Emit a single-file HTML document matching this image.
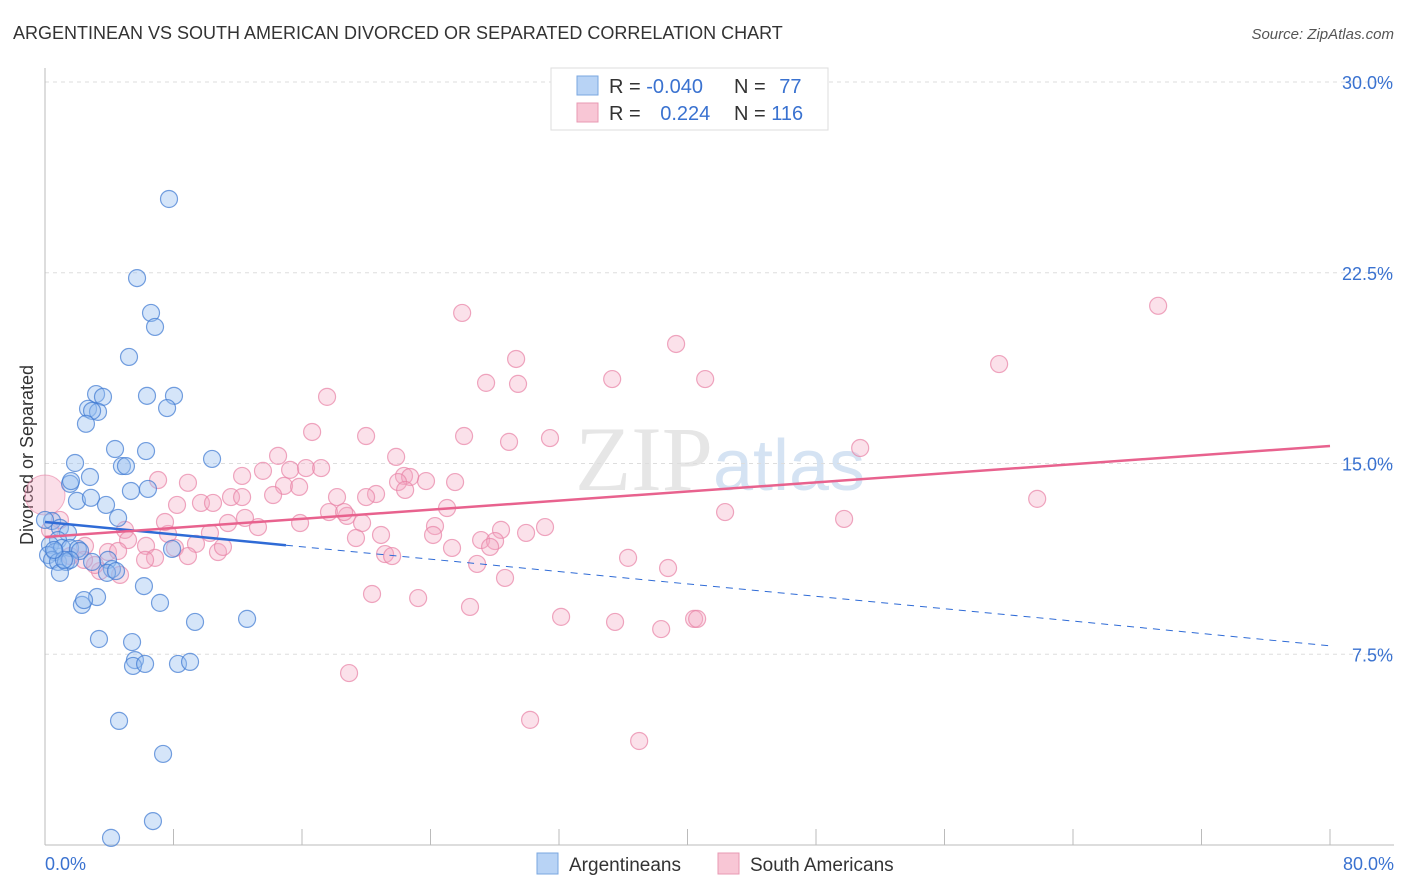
<!DOCTYPE html>
<html><head><meta charset="utf-8"><style>
body{margin:0;background:#fff;font-family:"Liberation Sans",sans-serif}
svg{display:block}
</style></head><body>
<svg id="chart" width="1406" height="892" xmlns="http://www.w3.org/2000/svg">
<text x="13" y="39" font-size="18" fill="#333">ARGENTINEAN VS SOUTH AMERICAN DIVORCED OR SEPARATED CORRELATION CHART</text>
<text x="1394" y="39" font-size="15" fill="#555" font-style="italic" text-anchor="end">Source: ZipAtlas.com</text>
<text x="720" y="490" font-size="92" fill="#e6e6e6" text-anchor="middle" font-family="Liberation Serif,serif">ZIP<tspan fill="#d5e3f3" font-family="Liberation Sans,sans-serif" font-size="72">atlas</tspan></text>
<text transform="translate(33,455) rotate(-90)" font-size="18" fill="#333" text-anchor="middle">Divorced or Separated</text>
<g id="grid"></g><g id="marks"></g><g id="lines"></g>
<g>
<rect x="551" y="68" width="277" height="62" fill="#fff" stroke="#ddd"/>
<rect x="577" y="76" width="21" height="19" fill="#b8d3f5" stroke="#7aa7e0"/>
<rect x="577" y="103" width="21" height="19" fill="#f8c6d5" stroke="#e899b3"/>
<text x="609" y="93" font-size="20" fill="#333">R = <tspan fill="#3a72d0">-0.040</tspan></text>
<text x="734" y="93" font-size="20" fill="#333">N = <tspan fill="#3a72d0" dx="8">77</tspan></text>
<text x="609" y="120" font-size="20" fill="#333">R = <tspan fill="#3a72d0" dx="14">0.224</tspan></text>
<text x="734" y="120" font-size="20" fill="#333">N = <tspan fill="#3a72d0">116</tspan></text>
</g>
<g>
<rect x="537" y="853" width="21" height="21" fill="#b8d3f5" stroke="#7aa7e0"/>
<text x="569" y="871" font-size="19" fill="#333">Argentineans</text>
<rect x="718" y="853" width="21" height="21" fill="#f8c6d5" stroke="#e899b3"/>
<text x="750" y="871" font-size="19" fill="#333">South Americans</text>
</g>
</svg>
<script>
const yTicks=[7.5,15,22.5,30];
const yTickLabels=["7.5%","15.0%","22.5%","30.0%"];
const xTickLabels=["0.0%","80.0%"];
const blueX=[7.72,5.73,6.60,6.85,5.23,3.18,3.61,6.35,8.03,2.68,3.30,2.93,7.60,2.55,4.36,6.29,10.40,1.87,4.79,5.04,1.56,2.80,1.62,5.35,6.41,1.99,2.86,3.80,4.55,0.44,0.93,1.43,0.81,0.31,0.62,1.06,1.56,2.05,0.19,0.44,0.81,1.31,2.18,3.92,4.17,3.86,4.42,2.93,0.93,1.56,7.91,6.16,3.24,2.30,2.43,7.16,9.34,12.58,3.36,5.42,5.60,5.48,6.23,8.28,9.03,4.61,7.35,6.72,4.11,1.18,0.56,0.0];
const blueY=[25.40,22.29,20.92,20.37,19.19,17.73,17.62,17.66,17.66,17.15,17.03,17.07,17.18,16.56,15.57,15.49,15.18,15.02,14.90,14.90,14.20,14.47,14.31,13.92,14.00,13.53,13.65,13.37,12.86,12.74,12.47,12.27,11.99,11.80,11.52,11.68,11.68,11.64,11.40,11.21,11.13,11.13,11.56,11.21,10.85,10.70,10.77,11.13,10.70,11.21,11.64,10.18,9.75,9.44,9.63,9.52,8.77,8.89,8.10,7.98,7.27,7.04,7.12,7.12,7.20,4.88,3.58,0.94,0.28,11.21,11.60,12.78];
const pinkX=[25.97,69.30,39.29,59.40,29.33,35.31,27.46,29.45,41.10,17.56,16.63,19.99,26.09,28.89,31.44,50.75,14.51,21.86,13.57,15.26,16.25,17.19,12.27,22.35,23.72,25.53,22.73,21.98,22.42,20.61,14.88,15.82,7.04,8.90,11.58,12.27,14.20,9.71,10.46,8.22,18.18,19.99,25.03,61.77,42.34,49.75,17.68,18.80,18.62,15.88,13.26,12.45,11.39,10.27,7.66,7.47,4.98,24.28,24.16,28.39,31.13,19.74,20.92,19.36,27.15,28.02,29.95,25.34,27.71,5.17,6.29,9.40,10.77,11.08,8.09,8.90,3.92,4.55,2.49,0.93,0.31,3.42,6.85,6.23,3.11,36.30,38.79,26.90,21.17,21.61,28.64,20.36,23.23,26.46,32.13,35.49,38.36,40.41,40.60,18.93,30.20,36.99,4.67,2.43,1.56];
const pinkY=[20.92,21.20,19.70,18.91,19.11,18.32,18.17,18.13,18.32,17.62,16.24,16.08,16.08,15.85,16.00,15.61,15.30,15.26,14.71,14.75,14.82,14.82,14.51,14.51,14.31,14.27,14.47,14.27,13.96,13.80,14.12,14.08,14.35,14.24,13.68,13.68,13.76,13.45,13.45,13.37,13.68,13.68,13.25,13.61,13.09,12.82,13.09,12.94,13.09,12.66,12.50,12.86,12.66,12.27,12.23,12.70,12.39,12.54,12.19,12.39,12.50,12.66,12.19,12.07,11.99,11.95,12.27,11.68,11.72,11.99,11.76,11.84,11.52,11.72,11.68,11.36,11.52,11.56,11.76,12.78,12.39,10.77,11.29,11.21,11.01,11.29,10.89,11.05,11.44,11.36,10.50,9.87,9.71,9.36,8.97,8.77,8.49,8.89,8.89,6.76,4.92,4.09,10.62,11.21,11.36];
const bigPink=[0,13.76];
const blueFit=[12.70,7.83];
const pinkFit=[12.11,15.69];
const blueSolidEnd=15;

const X=v=>45+v*(1285/80);
const Y=v=>845-v*(763/30);
const NS="http://www.w3.org/2000/svg";
function mk(tag,attrs,parent){const e=document.createElementNS(NS,tag);for(const k in attrs)e.setAttribute(k,attrs[k]);parent.appendChild(e);return e;}
const grid=document.getElementById('grid'),marks=document.getElementById('marks'),lines=document.getElementById('lines'),svg=document.getElementById('chart');
yTicks.forEach((t,i)=>{
 const l=mk('line',{x1:45,x2:1394,y1:Y(t),y2:Y(t),stroke:'#ddd','stroke-dasharray':'4,4'},grid);
 
 
 const tx=mk('text',{x:1393,y:Y(t)+7,'font-size':18,fill:'#3a72d0','text-anchor':'end'},grid);
 tx.textContent=yTickLabels[i];
 
 
});
const ax=mk('line',{x1:45,x2:45,y1:68,y2:845,stroke:'#bbb'},grid);


const bx=mk('line',{x1:45,x2:1394,y1:845,y2:845,stroke:'#bbb'},grid);


for(let i=1;i<=10;i++){const t=mk('line',{x1:X(i*8),x2:X(i*8),y1:829,y2:845,stroke:'#bbb'},grid);
 
 }
[[0,'start',45],[80,'end',1394]].forEach((d,i)=>{const t=mk('text',{x:d[2],y:870,'font-size':18,fill:'#3a72d0','text-anchor':d[1]},grid);t.textContent=xTickLabels[i];
 
 });
const bp=mk('circle',{cx:X(bigPink[0]),cy:Y(bigPink[1]),r:20,fill:'rgba(244,160,188,0.35)',stroke:'rgba(232,130,165,0.6)'},marks);


pinkX.forEach((x,i)=>{const c=mk('circle',{cx:X(x),cy:Y(pinkY[i]),r:8.5,fill:'rgba(244,170,195,0.35)',stroke:'rgba(232,130,165,0.7)','stroke-width':1.2},marks);
 
 });
blueX.forEach((x,i)=>{const c=mk('circle',{cx:X(x),cy:Y(blueY[i]),r:8.5,fill:'rgba(150,190,240,0.4)',stroke:'rgba(60,120,210,0.7)','stroke-width':1.2},marks);
 
 });
const bAt=v=>blueFit[0]+(blueFit[1]-blueFit[0])*v/80;
const l1=mk('line',{x1:X(0),y1:Y(bAt(0)),x2:X(blueSolidEnd),y2:Y(bAt(blueSolidEnd)),stroke:'#2f6bd6','stroke-width':2.5},lines);


const l2=mk('line',{x1:X(blueSolidEnd),y1:Y(bAt(blueSolidEnd)),x2:X(80),y2:Y(bAt(80)),stroke:'#2f6bd6','stroke-width':1,'stroke-dasharray':'7,6'},lines);


const l3=mk('line',{x1:X(0),y1:Y(pinkFit[0]),x2:X(80),y2:Y(pinkFit[1]),stroke:'#e8628e','stroke-width':2.5},lines);


</script>
</body></html>
